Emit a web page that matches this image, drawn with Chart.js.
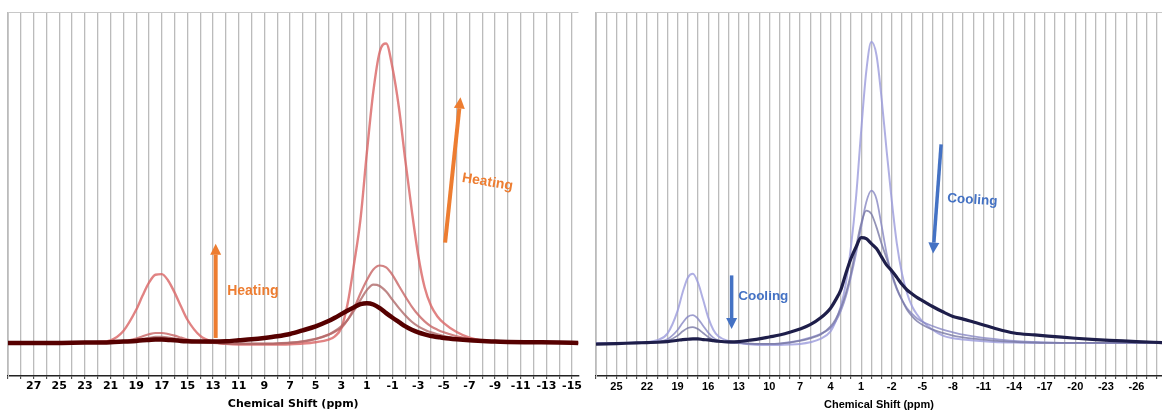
<!DOCTYPE html>
<html>
<head>
<meta charset="utf-8">
<script src="https://cdn.jsdelivr.net/npm/chart.js@4.4.1/dist/chart.umd.min.js"></script>
<style>
  html, body { margin: 0; padding: 0; background: #fff; }
  #wrap { position: relative; width: 1162px; height: 410px; overflow: hidden; }
  #heat { position: absolute; left: 0; top: 0; }
  #cool { position: absolute; left: 588px; top: 0; }
</style>
</head>
<body>
<div id="wrap">
  <canvas id="heat" width="584" height="410"></canvas>
  <canvas id="cool" width="574" height="410"></canvas>
</div>
<script>
// heating panel: chemical shift (ppm) and intensities
const heatShift = [29, 27, 25, 23, 22, 21, 20, 19, 18.5, 18, 17.5, 17, 16.5, 16, 15.5, 15, 14, 13, 12, 11, 10, 9, 8, 7, 6, 5,
  4, 3.5, 3, 2.5, 2, 1.5, 1, 0.5, 0, -0.5, -1, -1.5, -2, -2.5, -3, -3.5, -4, -4.5, -5, -6, -7, -8, -9, -10, -12, -14, -15.5];
const heatA = [0, 0, 0, 0.001, 0.003, 0.008, 0.036, 0.10, 0.143, 0.182, 0.206, 0.208, 0.188, 0.152, 0.11, 0.07, 0.021, 0.003, -0.003, -0.005, -0.005, -0.005, -0.005, -0.004, -0.002, 0.002,
  0.01, 0.02, 0.045, 0.12, 0.24, 0.375, 0.577, 0.76, 0.88, 0.905, 0.83, 0.71, 0.55, 0.40, 0.265, 0.168, 0.112, 0.08, 0.06, 0.033, 0.016, 0.007, 0.003, 0.001, 0, 0, 0];
const heatB = [0, 0, 0, 0, 0.001, 0.002, 0.005, 0.013, 0.02, 0.026, 0.03, 0.03, 0.027, 0.022, 0.016, 0.01, 0.004, 0.001, -0.002, -0.003, -0.003, -0.003, -0.002, 0, 0.004, 0.012,
  0.025, 0.034, 0.045, 0.07, 0.105, 0.15, 0.19, 0.222, 0.234, 0.228, 0.205, 0.172, 0.14, 0.11, 0.085, 0.065, 0.05, 0.04, 0.032, 0.02, 0.012, 0.007, 0.004, 0.002, 0.001, 0, 0];
const heatC = [0, 0, 0, 0, 0, 0.001, 0.003, 0.008, 0.012, 0.015, 0.018, 0.018, 0.016, 0.013, 0.009, 0.006, 0.002, 0, -0.002, -0.002, -0.002, -0.002, -0.001, 0.001, 0.005, 0.012,
  0.025, 0.036, 0.05, 0.07, 0.098, 0.13, 0.16, 0.176, 0.172, 0.155, 0.13, 0.105, 0.083, 0.064, 0.05, 0.04, 0.032, 0.026, 0.021, 0.013, 0.008, 0.005, 0.003, 0.001, 0, 0, 0];
const heatD = [0, 0, 0, 0.001, 0.001, 0.002, 0.004, 0.006, 0.008, 0.009, 0.01, 0.01, 0.009, 0.008, 0.006, 0.005, 0.004, 0.004, 0.005, 0.008, 0.011, 0.015, 0.02, 0.027, 0.038, 0.05,
  0.066, 0.076, 0.087, 0.098, 0.108, 0.117, 0.12, 0.116, 0.105, 0.09, 0.076, 0.063, 0.05, 0.04, 0.032, 0.026, 0.021, 0.018, 0.015, 0.011, 0.008, 0.006, 0.004, 0.003, 0.002, 0.001, 0];

// cooling panel
const coolShift = [27, 25, 23, 22, 21, 20, 19, 18.5, 18, 17.5, 17, 16.5, 16, 15.5, 15, 14, 13, 12, 11, 10, 9, 8, 7, 6, 5,
  4, 3.5, 3, 2.5, 2, 1.5, 1, 0.5, 0, -0.5, -1, -1.5, -2, -2.5, -3, -3.5, -4, -4.5, -5, -6, -7, -8, -9, -10, -12, -14,
  -16, -18, -20, -22, -24, -26, -28.5];
const coolA = [0, 0, 0.001, 0.003, 0.008, 0.028, 0.097, 0.153, 0.197, 0.209, 0.182, 0.131, 0.077, 0.04, 0.02, 0.006, 0, -0.004, -0.006, -0.006, -0.006, -0.005, -0.003, 0.002, 0.012,
  0.035, 0.065, 0.11, 0.18, 0.29, 0.44, 0.64, 0.82, 0.91, 0.87, 0.74, 0.58, 0.43, 0.30, 0.21, 0.15, 0.11, 0.085, 0.066, 0.04, 0.022, 0.014, 0.01, 0.007, 0.003, 0.001,
  0, 0, 0, 0, 0, 0, 0];
const coolB = [0, 0, 0, 0.001, 0.003, 0.011, 0.039, 0.061, 0.079, 0.084, 0.073, 0.052, 0.031, 0.016, 0.008, 0.002, 0, -0.002, -0.003, -0.003, -0.002, 0.002, 0.008, 0.016, 0.027,
  0.045, 0.065, 0.096, 0.14, 0.2, 0.27, 0.35, 0.425, 0.46, 0.435, 0.355, 0.27, 0.205, 0.162, 0.13, 0.105, 0.088, 0.074, 0.064, 0.051, 0.04, 0.032, 0.025, 0.02, 0.012, 0.006,
  0.003, 0.001, 0, 0, 0, 0, 0];
const coolC = [0, 0, 0, 0.001, 0.002, 0.006, 0.022, 0.035, 0.045, 0.048, 0.042, 0.03, 0.018, 0.009, 0.005, 0.001, 0, -0.002, -0.003, -0.003, -0.002, 0.001, 0.006, 0.014, 0.025,
  0.05, 0.072, 0.105, 0.15, 0.21, 0.29, 0.36, 0.40, 0.39, 0.35, 0.30, 0.255, 0.21, 0.165, 0.13, 0.1, 0.08, 0.065, 0.055, 0.04, 0.03, 0.022, 0.017, 0.013, 0.007, 0.003,
  0.001, 0, 0, 0, 0, 0, 0];
const coolD = [-0.004, -0.002, 0, 0.001, 0.002, 0.004, 0.008, 0.01, 0.011, 0.012, 0.012, 0.01, 0.009, 0.007, 0.005, 0.003, 0.004, 0.008, 0.012, 0.018, 0.024, 0.032, 0.042, 0.055, 0.075,
  0.105, 0.13, 0.16, 0.21, 0.255, 0.29, 0.318, 0.315, 0.3, 0.285, 0.26, 0.235, 0.218, 0.198, 0.177, 0.16, 0.148, 0.137, 0.128, 0.11, 0.094, 0.08, 0.072, 0.063, 0.045, 0.03,
  0.024, 0.019, 0.014, 0.01, 0.007, 0.004, 0.001];

// annotations: [fromShift, fromValue, toShift, toValue] and [text, shift, value, angle]
const heatArrows = [[12.8, 0.015, 12.8, 0.30], [-5.1, 0.303, -6.3, 0.742]];
const heatLabels = [['Heating', 9.9, 0.156, 0], ['Heating', -8.4, 0.486, 9.5]];
const coolArrows = [[13.7, 0.204, 13.7, 0.042], [-6.84, 0.60, -6.05, 0.27]];
const coolLabels = [['Cooling', 10.6, 0.141, 0], ['Cooling', -9.9, 0.432, 3.8]];

function notes(arrows, labels, color, shaft, fontSize) {
  return {
    id: 'notes',
    afterDatasetsDraw(chart) {
      const {ctx} = chart;
      const x = chart.scales.x, y = chart.scales.y;
      ctx.save();
      ctx.strokeStyle = color;
      ctx.fillStyle = color;
      arrows.forEach(([a, b, c, d]) => {
        const x1 = x.getPixelForValue(a), y1 = y.getPixelForValue(b);
        const x2 = x.getPixelForValue(c), y2 = y.getPixelForValue(d);
        const ang = Math.atan2(y2 - y1, x2 - x1);
        const head = 11, half = 5.5;
        const bx = x2 - head * Math.cos(ang), by = y2 - head * Math.sin(ang);
        ctx.lineWidth = shaft;
        ctx.beginPath(); ctx.moveTo(x1, y1); ctx.lineTo(bx, by); ctx.stroke();
        ctx.beginPath();
        ctx.moveTo(x2, y2);
        ctx.lineTo(bx + half * Math.sin(ang), by - half * Math.cos(ang));
        ctx.lineTo(bx - half * Math.sin(ang), by + half * Math.cos(ang));
        ctx.closePath();
        ctx.fill();
      });
      ctx.font = 'bold ' + fontSize + 'px "Liberation Sans", Arial, sans-serif';
      ctx.textAlign = 'center';
      ctx.textBaseline = 'middle';
      labels.forEach(([t, a, b, rot]) => {
        ctx.save();
        ctx.translate(x.getPixelForValue(a), y.getPixelForValue(b));
        ctx.rotate(rot * Math.PI / 180);
        ctx.fillText(t, 0, 0);
        ctx.restore();
      });
      ctx.restore();
    }
  };
}

function panel(id, shift, series, looks, xMin, xMax, showTick, family, pad, plugin) {
  return new Chart(document.getElementById(id), {
    type: 'line',
    data: {
      datasets: series.map((vals, i) => ({
        data: shift.map((s, j) => ({x: s, y: vals[j]})),
        borderColor: looks[i][0],
        borderWidth: looks[i][1],
        pointRadius: 0,
        fill: false,
        cubicInterpolationMode: 'monotone'
      }))
    },
    options: {
      responsive: false,
      animation: false,
      devicePixelRatio: 1,
      layout: {padding: pad},
      plugins: {legend: {display: false}, tooltip: {enabled: false}},
      scales: {
        x: {
          type: 'linear', reverse: true, min: xMin, max: xMax,
          ticks: {
            stepSize: 1, autoSkip: false, includeBounds: false, maxRotation: 0, padding: 2, color: '#000',
            font: {family: family, size: 11, weight: 'bold', lineHeight: 1},
            callback: v => showTick(v) ? String(v) : ''
          },
          grid: {color: '#bbbbbb', lineWidth: 1.3, tickLength: 3, tickColor: '#333', tickWidth: 1},
          border: {color: '#222', width: 1.5},
          title: {
            display: true, text: 'Chemical Shift (ppm)', color: '#000',
            font: {family: family, size: 11, weight: 'bold', lineHeight: 1}, padding: {top: 5, bottom: 0}
          }
        },
        y: {
          min: -0.1, max: 1.0,
          ticks: {display: false},
          grid: {drawTicks: false, color: c => Math.abs(c.tick.value - 1) < 1e-6 ? '#c8c8c8' : 'rgba(0,0,0,0)'},
          border: {display: true, color: '#c8c8c8'}
        }
      }
    },
    plugins: [plugin]
  });
}

// dataset 0 is drawn on top, so the dark trace goes first
panel('heat', heatShift, [heatD, heatC, heatB, heatA],
  [['#560000', 4.5], ['rgba(175,105,105,0.8)', 2.2], ['rgba(200,100,100,0.8)', 2.2], ['rgba(218,100,100,0.8)', 2.4]],
  -15.5, 29, v => Number.isInteger(v) && Math.abs(v % 2) === 1 && v <= 27,
  '"DejaVu Sans", Verdana, sans-serif', {top: 12, left: 8, right: 3, bottom: 0},
  notes(heatArrows, heatLabels, '#ed7d31', 4, 14));

panel('cool', coolShift, [coolD, coolC, coolB, coolA],
  [['#1e1e4a', 3.2], ['rgba(120,120,165,0.8)', 1.8], ['rgba(135,135,195,0.8)', 1.8], ['rgba(155,155,220,0.8)', 2]],
  -28.5, 27, v => Number.isInteger(v) && ((v % 3) + 3) % 3 === 1 && v <= 25,
  '"Liberation Sans", Arial, sans-serif', {top: 12, left: 8, right: 0, bottom: 0},
  notes(coolArrows, coolLabels, '#4472c4', 3.5, 13.5));
</script>
</body>
</html>
